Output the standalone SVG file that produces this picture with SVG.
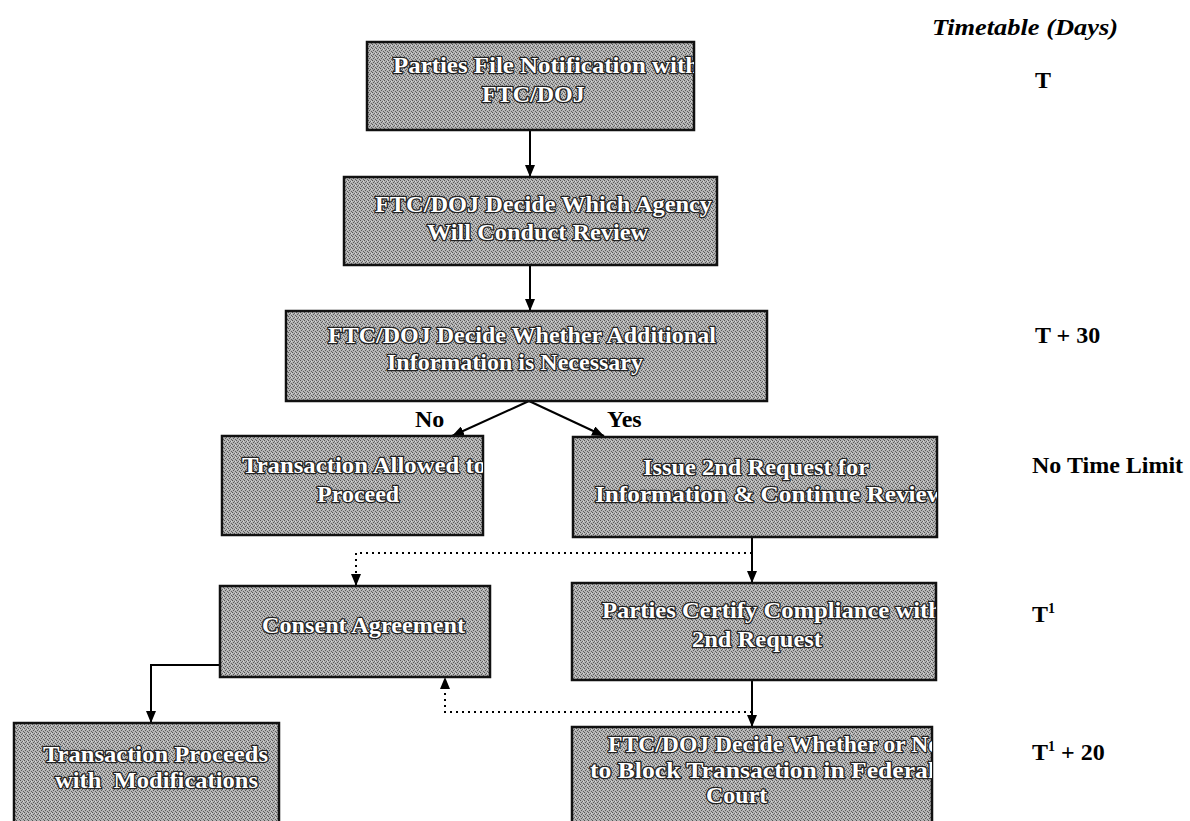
<svg xmlns="http://www.w3.org/2000/svg" width="1190" height="821" viewBox="0 0 1190 821">
<style>
.box{fill:url(#dither);stroke:#111;stroke-width:2.5}
.bt{font-family:"Liberation Serif","Times New Roman",serif;font-weight:bold;font-size:24px;fill:#fff;stroke:#222;stroke-width:2.6;paint-order:stroke;stroke-linejoin:round}
.side{font-family:"Liberation Serif","Times New Roman",serif;font-weight:bold;font-size:24px;fill:#000}
.ln{fill:none;stroke:#000;stroke-width:2}
.dot{fill:none;stroke:#000;stroke-width:2;stroke-dasharray:2 4}
</style>
<defs>
<pattern id="dither" width="4" height="4" patternUnits="userSpaceOnUse">
<rect width="4" height="4" fill="#b4b4b4"/>
<rect x="0" y="0" width="1" height="1" fill="#555"/>
<rect x="2" y="1" width="1" height="1" fill="#666"/>
<rect x="1" y="2" width="1" height="1" fill="#5a5a5a"/>
<rect x="3" y="3" width="1" height="1" fill="#606060"/>
<rect x="3" y="1" width="1" height="1" fill="#d8d8d8"/>
</pattern>
<marker id="ah" viewBox="0 0 12 10" refX="12" refY="5" markerWidth="12" markerHeight="10" markerUnits="userSpaceOnUse" orient="auto">
<path d="M0,0 L12,5 L0,10 Z" fill="#000"/>
</marker>
<clipPath id="c1"><rect x="367" y="42" width="327" height="88"/></clipPath>
<clipPath id="c2"><rect x="344" y="177" width="373" height="88"/></clipPath>
<clipPath id="c3"><rect x="286" y="311" width="481" height="90"/></clipPath>
<clipPath id="c4"><rect x="222" y="436" width="261" height="99"/></clipPath>
<clipPath id="c5"><rect x="573" y="437" width="364" height="100"/></clipPath>
<clipPath id="c6"><rect x="220" y="586" width="270" height="91"/></clipPath>
<clipPath id="c7"><rect x="572" y="583" width="364" height="97"/></clipPath>
<clipPath id="c8"><rect x="14" y="723" width="265" height="110"/></clipPath>
<clipPath id="c9"><rect x="572" y="727" width="360" height="110"/></clipPath>
</defs>
<rect width="1190" height="821" fill="#fff"/>

<g id="connectors">
<line class="ln" x1="530" y1="130" x2="530" y2="177" marker-end="url(#ah)"/>
<line class="ln" x1="530" y1="265" x2="530" y2="311" marker-end="url(#ah)"/>
<line class="ln" x1="529" y1="401" x2="452" y2="436" marker-end="url(#ah)"/>
<line class="ln" x1="529" y1="401" x2="604" y2="436" marker-end="url(#ah)"/>
<line class="ln" x1="752" y1="537" x2="752" y2="583" marker-end="url(#ah)"/>
<line class="ln" x1="752" y1="680" x2="752" y2="727" marker-end="url(#ah)"/>
<polyline class="dot" points="752,553 356,553 356,586" marker-end="url(#ah)"/>
<polyline class="dot" points="752,712 445,712 445,677" marker-end="url(#ah)"/>
<polyline class="ln" points="220,665 151,665 151,723" marker-end="url(#ah)"/>
<text class="side" x="415" y="427">No</text>
<text class="side" x="607" y="427">Yes</text>
</g>

<g id="n1">
<rect class="box" x="367" y="42" width="327" height="88"/>
<g clip-path="url(#c1)">
<text class="bt" x="393" y="73" textLength="306" lengthAdjust="spacingAndGlyphs">Parties File Notification with</text>
<text class="bt" x="482" y="102">FTC/DOJ</text>
</g>
</g>
<g id="n2">
<rect class="box" x="344" y="177" width="373" height="88"/>
<g clip-path="url(#c2)">
<text class="bt" x="375" y="212" textLength="337" lengthAdjust="spacingAndGlyphs">FTC/DOJ Decide Which Agency</text>
<text class="bt" x="427" y="240" textLength="221" lengthAdjust="spacingAndGlyphs">Will Conduct Review</text>
</g>
</g>
<g id="n3">
<rect class="box" x="286" y="311" width="481" height="90"/>
<g clip-path="url(#c3)">
<text class="bt" x="328" y="343">FTC/DOJ Decide Whether Additional</text>
<text class="bt" x="387" y="370">Information is Necessary</text>
</g>
</g>
<g id="n4">
<rect class="box" x="222" y="436" width="261" height="99"/>
<g clip-path="url(#c4)">
<text class="bt" x="242" y="473" textLength="244" lengthAdjust="spacingAndGlyphs">Transaction Allowed to</text>
<text class="bt" x="317" y="502">Proceed</text>
</g>
</g>
<g id="n5">
<rect class="box" x="573" y="437" width="364" height="100"/>
<g clip-path="url(#c5)">
<text class="bt" x="643" y="475" textLength="226" lengthAdjust="spacingAndGlyphs">Issue 2nd Request for</text>
<text class="bt" x="595" y="502" textLength="350" lengthAdjust="spacingAndGlyphs">Information &amp; Continue Review</text>
</g>
</g>
<g id="n6">
<rect class="box" x="220" y="586" width="270" height="91"/>
<g clip-path="url(#c6)">
<text class="bt" x="262" y="633" textLength="203" lengthAdjust="spacingAndGlyphs">Consent Agreement</text>
</g>
</g>
<g id="n7">
<rect class="box" x="572" y="583" width="364" height="97"/>
<g clip-path="url(#c7)">
<text class="bt" x="602" y="618" textLength="340" lengthAdjust="spacingAndGlyphs">Parties Certify Compliance with</text>
<text class="bt" x="692" y="647" textLength="130" lengthAdjust="spacingAndGlyphs">2nd Request</text>
</g>
</g>
<g id="n8">
<rect class="box" x="14" y="723" width="265" height="110"/>
<g clip-path="url(#c8)">
<text class="bt" x="43" y="762" textLength="225" lengthAdjust="spacingAndGlyphs">Transaction Proceeds</text>
<text class="bt" x="55" y="788" xml:space="preserve" textLength="203" lengthAdjust="spacingAndGlyphs">with  Modifications</text>
</g>
</g>
<g id="n9">
<rect class="box" x="572" y="727" width="360" height="110"/>
<g clip-path="url(#c9)">
<text class="bt" x="608" y="752" textLength="340" lengthAdjust="spacingAndGlyphs">FTC/DOJ Decide Whether or Not</text>
<text class="bt" x="590" y="778" textLength="345" lengthAdjust="spacingAndGlyphs">to Block Transaction in Federal</text>
<text class="bt" x="706" y="803">Court</text>
</g>
</g>

<g id="timetable">
<text class="side" x="932" y="35" font-style="italic" font-size="27" textLength="186" lengthAdjust="spacingAndGlyphs">Timetable (Days)</text>
<text class="side" x="1035" y="88">T</text>
<text class="side" x="1035" y="343">T + 30</text>
<text class="side" x="1032" y="473">No Time Limit</text>
<text class="side" x="1032" y="622">T<tspan font-size="14" dy="-9">1</tspan></text>
<text class="side" x="1032" y="760">T<tspan font-size="14" dy="-9">1</tspan><tspan dy="9"> + 20</tspan></text>
</g>
</svg>
